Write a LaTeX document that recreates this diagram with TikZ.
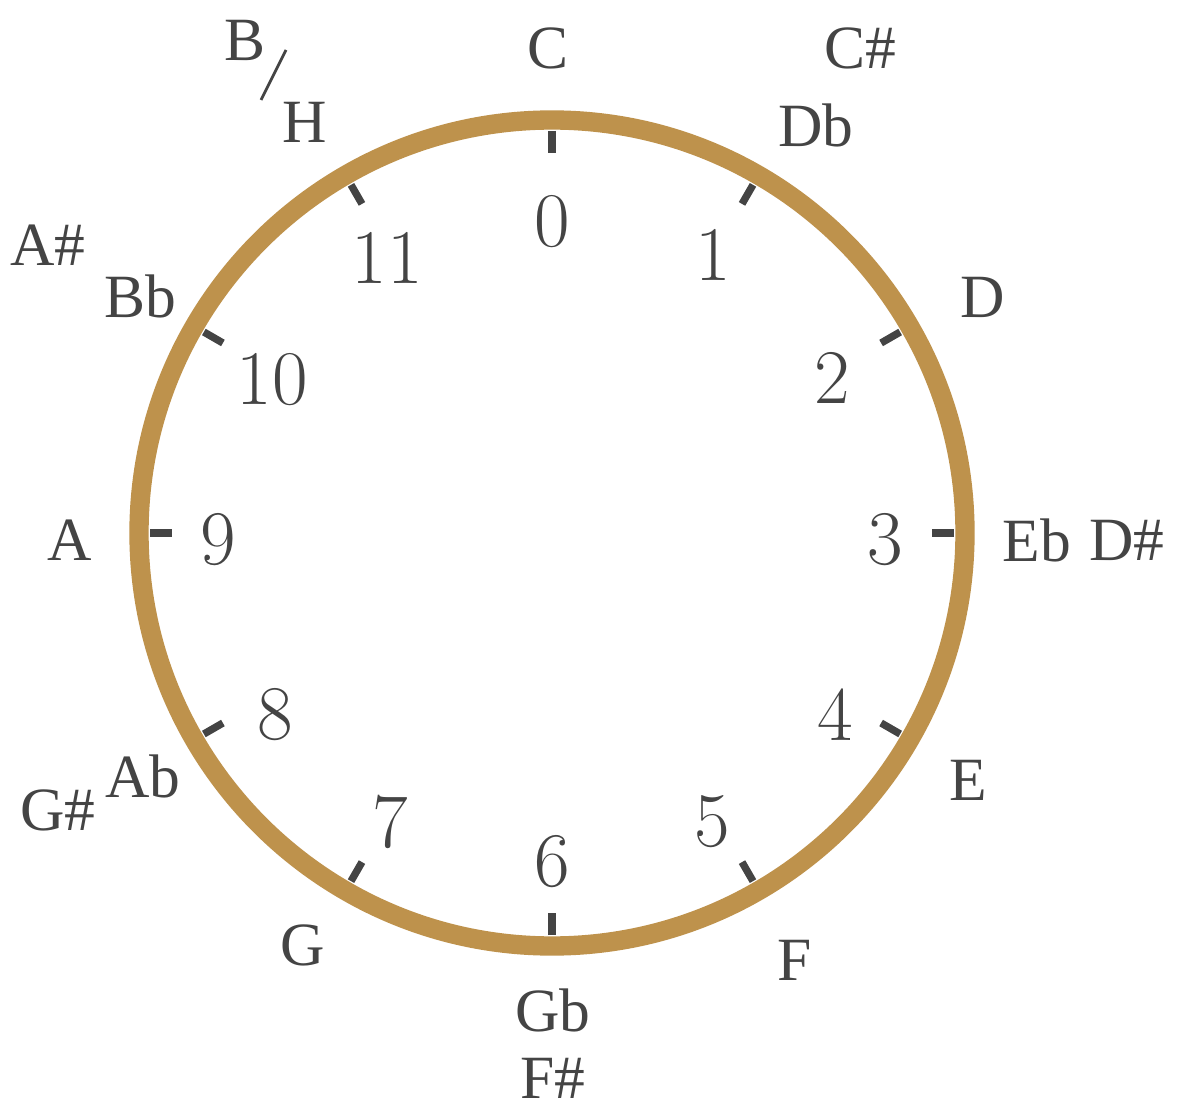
\documentclass[tikz,border=0pt]{standalone}
\usepackage{fontspec}
\newfontfamily\notefont{Liberation Serif}
\usepackage{tikz}
\usetikzlibrary{calc}
\definecolor{ringgold}{RGB}{190,146,76}
\definecolor{inkgray}{RGB}{68,68,68}

\begin{document}
\begin{tikzpicture}[
    x=0.02cm, y=-0.02cm,
    note/.style={font=\notefont\fontsize{35}{40}\selectfont, text=inkgray, inner sep=0pt},
    num/.style={font=\fontsize{44}{50}\selectfont, text=inkgray, inner sep=0pt},
    ring/.style={draw=ringgold, line width=11pt},
    tick/.style={draw=inkgray, line width=4.2pt}
]
\useasboundingbox (0,0) rectangle (1177,1111);
\coordinate (ctr) at (552,533);

% Ring and ticks
\draw[ring] (ctr) circle[radius=413];
\foreach \k in {0,...,11}{
  \draw[tick] ($(ctr)+({90-30*\k}:-402)$) -- ($(ctr)+({90-30*\k}:-380)$);
}

% Pitch class numbers
\node[num] (n0) at (552,222) {0};
\node[num] (n1) at (713,255) {1};
\node[num] (n2) at (832,378) {2};
\node[num] (n3) at (885,540) {3};
\node[num] (n4) at (835,715) {4};
\node[num] (n5) at (712,822) {5};
\node[num] (n6) at (552,862) {6};
\node[num] (n7) at (390,822) {7};
\node[num] (n8) at (275,715) {8};
\node[num] (n9) at (218,540) {9};
\node[num] (n10) at (272,380) {10};
\node[num] (n11) at (387,258) {11};

% Note names
\node[note] (c) at (548,48) {C};
\node[note] (cs) at (860,48) {C\#};
\node[note] (db) at (816,125) {Db};
\node[note] (d) at (983,297) {D};
\node[note] (eb) at (1037,540) {Eb};
\node[note] (ds) at (1127,540) {D\#};
\node[note] (e) at (968,780) {E};
\node[note] (f) at (795,960) {F};
\node[note] (gb) at (553,1010) {Gb};
\node[note] (fs) at (553,1078) {F\#};
\node[note] (g) at (303,945) {G};
\node[note] (ab) at (143,776) {Ab};
\node[note] (gs) at (58,810) {G\#};
\node[note] (a) at (70,540) {A};
\node[note] (bb) at (140,296) {Bb};
\node[note] (as) at (48,245) {A\#};
\node[note] (b) at (245,40) {B};
\node[note] (h) at (305,122) {H};
\draw[inkgray, line width=1.6pt] (286,50) -- (261,100);
\end{tikzpicture}
\end{document}
